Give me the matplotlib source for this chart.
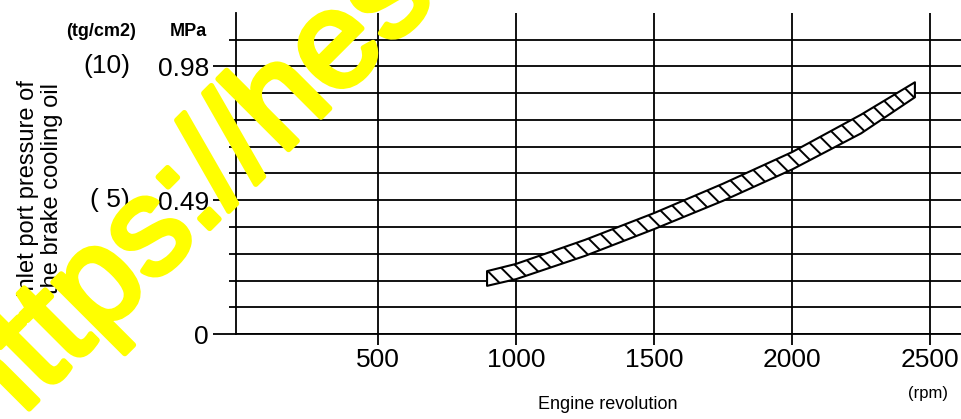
import numpy as np
import matplotlib.pyplot as plt
import matplotlib.transforms as mtransforms
import matplotlib.patheffects as pe

# band (pressure in kg/cm2, 1 kg/cm2 = 0.098 MPa)
rpm = [895, 1000, 1250, 1500, 1750, 2000, 2250, 2445]
p_low = [1.80, 2.05, 2.92, 3.92, 4.98, 6.15, 7.50, 8.85]
p_high = [2.35, 2.62, 3.52, 4.52, 5.62, 6.80, 8.20, 9.41]

x_ticks = [500, 1000, 1500, 2000, 2500]
y_major = [0, 5, 10]
mpa_labels = ['0', '0.49', '0.98']
kg_labels = ['', '( 5)', '(10)']

plt.rcParams['font.family'] = ['Liberation Sans', 'DejaVu Sans']
plt.rcParams['hatch.linewidth'] = 1.4

W, H = 961, 419
fig = plt.figure(figsize=(W / 100, H / 100), dpi=100)
ax = fig.add_axes([236 / W, (H - 334) / H, 725 / W, 321 / H])
ax.set_xlim(-14.5, 2612)
ax.set_ylim(0, 12)

lw = 1.3
ax.fill_between(rpm, p_low, p_high, facecolor='white', edgecolor='black',
                hatch='\\\\', linewidth=1.5, zorder=3)

for s in ['top', 'right']:
    ax.spines[s].set_visible(False)
for s in ['left', 'bottom']:
    ax.spines[s].set_linewidth(lw)

ax.set_xticks(x_ticks)
ax.set_xticklabels([str(v) for v in x_ticks], fontsize=19)
ax.tick_params(axis='x', direction='out', length=8, width=lw, pad=2)

ax.set_yticks(y_major)
ax.set_yticks([v for v in range(12) if v not in y_major], minor=True)
ax.set_yticklabels(mpa_labels, fontsize=19)
ax.tick_params(axis='y', which='major', direction='out', length=16.5, width=lw, pad=3)
ax.tick_params(axis='y', which='minor', direction='out', length=5, width=lw)

ax.grid(axis='y', which='both', color='black', linewidth=lw)
ax.grid(axis='x', which='major', color='black', linewidth=lw)
ax.set_axisbelow(True)

# second label column in kg/cm2
tr = mtransforms.blended_transform_factory(fig.transFigure, ax.transData)
for v, lab in zip(y_major, kg_labels):
    ax.text(130 / W, v, lab, transform=tr, ha='right', va='center', fontsize=19)

fig.text(101 / W, 1 - 32 / H, '(tg/cm2)', ha='center', va='center',
         fontsize=13, fontweight='bold')
fig.text(188 / W, 1 - 32 / H, 'MPa', ha='center', va='center',
         fontsize=13, fontweight='bold')
fig.text(928 / W, 1 - 393 / H, '(rpm)', ha='center', va='center', fontsize=12)
fig.text(608 / W, 1 - 404 / H, 'Engine revolution', ha='center', va='center',
         fontsize=13)
fig.text(40 / W, 1 - 189 / H, 'Inlet port pressure of\nthe brake cooling oil',
         rotation=90, ha='center', va='center', fontsize=17, linespacing=1.1,
         multialignment='center')

# yellow watermark across the left part
fig.text(-10 / W, 1 - 448 / H, 'https://hes', color='#ffff00', fontsize=99,
         rotation=45, rotation_mode='anchor', ha='left', va='baseline', zorder=10,
         path_effects=[pe.withStroke(linewidth=4, foreground='#ffff00')])

fig.savefig('out.png', dpi=100)
